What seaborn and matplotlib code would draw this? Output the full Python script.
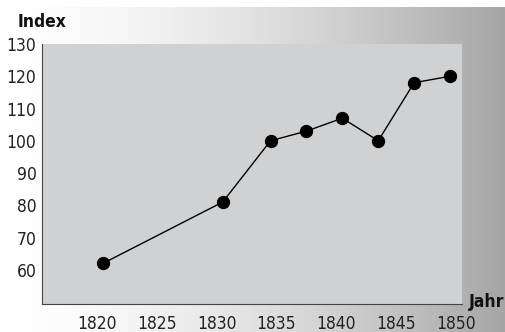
import numpy as np
import pandas as pd
import matplotlib
matplotlib.use("Agg")
import matplotlib.pyplot as plt
import matplotlib.transforms as mtransforms
from matplotlib.ticker import MultipleLocator, FixedLocator
import seaborn as sns

# Data
years = [1820, 1830, 1834, 1837, 1840, 1843, 1846, 1849]
index_values = [62, 81, 100, 103, 107, 100, 118, 120]
x_ticks = [1820, 1825, 1830, 1835, 1840, 1845, 1850]
y_ticks = [60, 70, 80, 90, 100, 110, 120, 130]

sns.set_theme(style="white")
plt.rcParams["font.family"] = ["DejaVu Sans"]
plt.rcParams["font.stretch"] = "condensed"

W, H = 505, 332
fig = plt.figure(figsize=(W / 100, H / 100), dpi=100)

# Background: white strip on top, horizontal white-to-grey gradient below
bg = fig.add_axes([0, 0, 1, 1], zorder=0)
bg.set_axis_off()
t = np.linspace(0, 1, W)
row = 255 - 90 * t ** 1.6
img = np.tile(row, (H, 1))
img[:7, :] = 255
img = np.repeat(img[:, :, None], 3, axis=2) / 255.0
bg.imshow(img, aspect="auto", extent=[0, 1, 0, 1], interpolation="bilinear")
bg.set_xlim(0, 1)
bg.set_ylim(0, 1)

ax = fig.add_axes([42 / W, 1 - 304 / H, 420 / W, 260 / H], zorder=1)
ax.set_facecolor("#d0d1d3")

df = pd.DataFrame({"Jahr": years, "Index": index_values})
sns.lineplot(data=df, x="Jahr", y="Index", ax=ax, color="black", linewidth=1.0,
             marker="o", markersize=8.8, markeredgecolor="black",
             markerfacecolor="black")

ax.set_xlim(1814.9, 1850.0)
ax.set_ylim(49.4, 130)

ax.xaxis.set_major_locator(FixedLocator(x_ticks))
ax.yaxis.set_major_locator(FixedLocator(y_ticks))
ax.xaxis.set_minor_locator(MultipleLocator(1))
ax.yaxis.set_minor_locator(MultipleLocator(2))

for side in ["top", "right"]:
    ax.spines[side].set_visible(False)
for side in ["left", "bottom"]:
    ax.spines[side].set_color("#444444")
    ax.spines[side].set_linewidth(0.8)

ax.tick_params(axis="both", which="major", length=0, labelsize=12.5,
               labelcolor="#222222")
ax.tick_params(axis="x", which="major", pad=8)
ax.tick_params(axis="y", which="major", pad=4)
ax.tick_params(axis="both", which="minor", length=1.5, width=0.6,
               color="#666666", direction="out")

# Year labels sit a little left of their tick positions
offset = mtransforms.ScaledTranslation(-6 / 100, 0, fig.dpi_scale_trans)
for lbl in ax.get_xticklabels():
    lbl.set_transform(lbl.get_transform() + offset)

ax.set_xlabel("")
ax.set_ylabel("")

fig.text(18 / W, 1 - 22 / H, "Index", fontsize=12.5, fontweight="bold",
         color="#111111", ha="left", va="center")
fig.text(504 / W, 1 - 302 / H, "Jahr", fontsize=12.5, fontweight="bold",
         color="#111111", ha="right", va="center")

fig.savefig("out.png", dpi=100)
